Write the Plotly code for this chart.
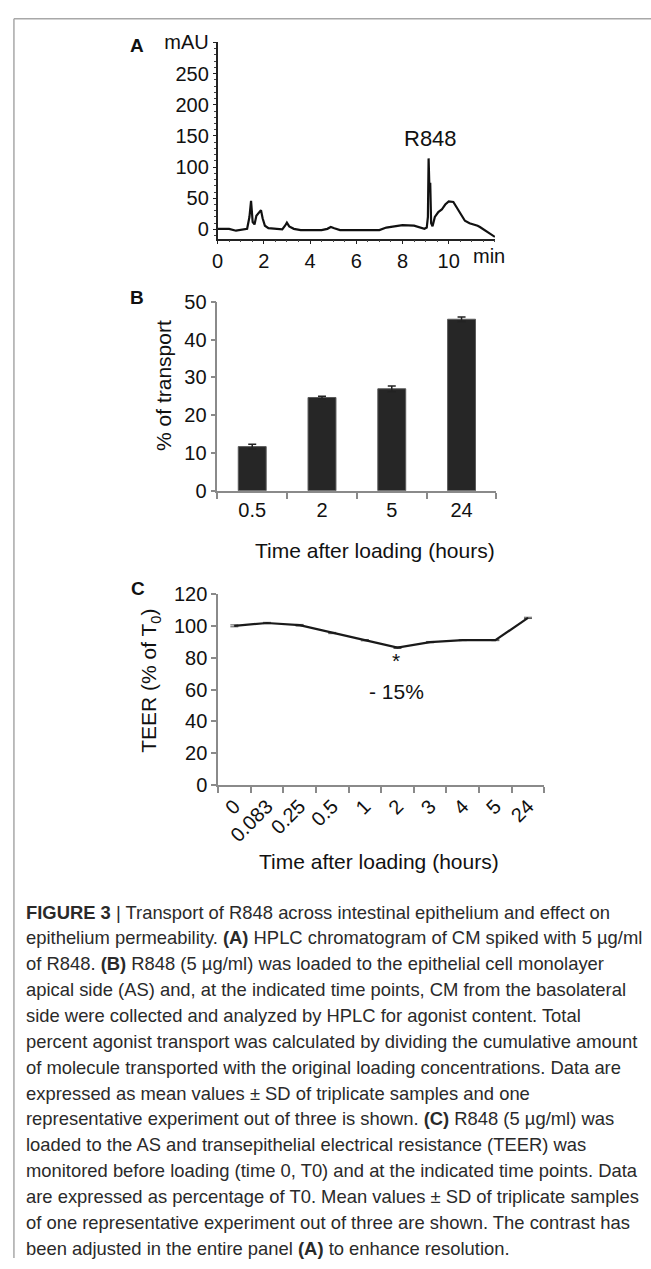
import plotly.graph_objects as go

W, H = 651, 1269

# ---------------- data ----------------
# Panel A: HPLC chromatogram (time in min, absorbance in mAU)
hplc_time = [0, 0.5, 0.8, 1.0, 1.28, 1.38, 1.45, 1.52, 1.6, 1.68, 1.75, 1.88, 1.95, 2.05,
             2.2, 2.5, 2.8, 2.92, 3.0, 3.1, 3.3, 3.6, 4.5, 4.75, 4.9, 5.05, 5.3, 6.0, 7.0,
             7.3, 7.6, 8.0, 8.5, 8.85, 8.95, 9.05, 9.1, 9.13, 9.17, 9.2, 9.24, 9.3, 9.4,
             9.55, 9.7, 9.85, 10.0, 10.2, 10.35, 10.5, 10.7, 10.9, 11.15, 11.25, 11.35,
             11.6, 11.8, 12.0]
hplc_mau = [1, 1, -2, -1, 1, 20, 46, 12, 8, 22, 25, 31, 18, 6,
            2, 1, 0, 6, 11, 5, 1, -1, -1, 1, 4, 2, -1, -1, -1,
            3, 5, 7, 6, 2, 1, 3, 20, 114, 60, 75, 10, 5, 20,
            28, 32, 40, 45, 44, 35, 25, 14, 10, 8, 6, 4,
            -2, -6, -12]
hplc_yticks = [0, 50, 100, 150, 200, 250, 300]
hplc_yticktext = ["0", "50", "100", "150", "200", "250", "mAU"]
hplc_xticks = [0, 2, 4, 6, 8, 10]

# Panel B: % of transport
transport_time = ["0.5", "2", "5", "24"]
transport_pct = [11.7, 24.7, 27.0, 45.4]
transport_sd = [0.6, 0.35, 0.75, 0.6]

# Panel C: TEER (% of T0)
teer_time = ["0", "0.083", "0.25", "0.5", "1", "2", "3", "4", "5", "24"]
teer_pct = [100, 101.8, 100.4, 95.5, 91, 86.3, 89.8, 91, 91, 105]
teer_sd = [0.6, 0.4, 0.5, 0.4, 0.4, 0.5, 0.4, 0.3, 0.3, 0.4]

caption_lines = [
    "<b>FIGURE 3</b> | Transport of R848 across intestinal epithelium and effect on",
    "epithelium permeability. <b>(A)</b> HPLC chromatogram of CM spiked with 5 µg/ml",
    "of R848. <b>(B)</b> R848 (5 µg/ml) was loaded to the epithelial cell monolayer",
    "apical side (AS) and, at the indicated time points, CM from the basolateral",
    "side were collected and analyzed by HPLC for agonist content. Total",
    "percent agonist transport was calculated by dividing the cumulative amount",
    "of molecule transported with the original loading concentrations. Data are",
    "expressed as mean values ± SD of triplicate samples and one",
    "representative experiment out of three is shown. <b>(C)</b> R848 (5 µg/ml) was",
    "loaded to the AS and transepithelial electrical resistance (TEER) was",
    "monitored before loading (time 0, T0) and at the indicated time points. Data",
    "are expressed as percentage of T0. Mean values ± SD of triplicate samples",
    "of one representative experiment out of three are shown. The contrast has",
    "been adjusted in the entire panel <b>(A)</b> to enhance resolution.",
]

# ---------------- helpers ----------------
def fx(px):
    return px / W

def fy(py):
    return 1 - py / H

FONT = "Liberation Sans, Arial, sans-serif"
TICKF = dict(family=FONT, size=20, color="#111111")
GRAY = "#8a8a8a"

fig = go.Figure()

# Panel A
fig.add_trace(go.Scatter(x=hplc_time, y=hplc_mau, mode="lines",
                         line=dict(color="#111111", width=2.2), xaxis="x", yaxis="y",
                         showlegend=False, hoverinfo="skip"))

# Panel B
fig.add_trace(go.Bar(x=transport_time, y=transport_pct, width=0.4,
                     marker=dict(color="#262626", line=dict(color="#5a5a5a", width=1)),
                     error_y=dict(type="data", array=transport_sd, visible=True,
                                  color="#222222", thickness=1.5, width=4),
                     xaxis="x2", yaxis="y2", showlegend=False, hoverinfo="skip"))

# Panel C
fig.add_trace(go.Scatter(x=teer_time, y=teer_pct, mode="lines",
                         line=dict(color="#1a1a1a", width=2.2),
                         error_y=dict(type="data", array=teer_sd, visible=True,
                                      color="#555555", thickness=1, width=4),
                         xaxis="x3", yaxis="y3", showlegend=False, hoverinfo="skip"))

axis_common = dict(showgrid=False, zeroline=False, fixedrange=True, tickfont=TICKF)

layout = dict(
    width=W, height=H,
    margin=dict(l=0, r=0, t=0, b=0),
    paper_bgcolor="white", plot_bgcolor="white",
    font=dict(family=FONT, color="#111111"),
    # Panel A axes
    xaxis=dict(domain=[fx(213.5), fx(493.5)], range=[0, 12], anchor="y",
               tickvals=hplc_xticks, ticks="outside", ticklen=4, tickwidth=1.2,
               tickcolor="#222222", showline=True, linecolor="#222222", linewidth=1.5,
               minor=dict(ticks="outside", dtick=0.5, ticklen=2, tickcolor="#444444"),
               **axis_common),
    yaxis=dict(domain=[fy(231.7), fy(32)], range=[-14.8, 300], anchor="x",
               tickvals=hplc_yticks, ticktext=hplc_yticktext, ticks="outside",
               ticklen=3, tickwidth=1.2, tickcolor="#222222", showline=True,
               linecolor="#222222", linewidth=1.5,
               minor=dict(ticks="outside", dtick=10, ticklen=2, tickcolor="#444444"),
               **axis_common),
    # Panel B axes
    xaxis2=dict(domain=[fx(213.3), fx(495)], anchor="y2", type="category",
                categoryorder="array", categoryarray=transport_time,
                tickson="boundaries", ticks="outside", ticklen=6, tickcolor=GRAY,
                tickwidth=1.5, showline=True, linecolor=GRAY, linewidth=1.5,
                **axis_common),
    yaxis2=dict(domain=[fy(488.3), fy(296)], range=[0, 50], anchor="x2",
                tickvals=[0, 10, 20, 30, 40, 50], ticks="outside", ticklen=5,
                tickcolor=GRAY, tickwidth=1.5, showline=True, linecolor=GRAY,
                linewidth=1.5, **axis_common),
    # Panel C axes
    xaxis3=dict(domain=[fx(214), fx(543.3)], anchor="y3", type="category",
                categoryorder="array", categoryarray=teer_time,
                tickson="boundaries", ticks="outside", ticklen=6, tickcolor=GRAY,
                tickwidth=1.5, showline=True, linecolor=GRAY, linewidth=1.5,
                tickangle=-45, **axis_common),
    yaxis3=dict(domain=[fy(787.7), fy(593.3)], range=[0, 120], anchor="x3",
                tickvals=[0, 20, 40, 60, 80, 100, 120], ticks="outside", ticklen=5,
                tickcolor=GRAY, tickwidth=1.5, showline=True, linecolor=GRAY,
                linewidth=1.5, **axis_common),
)
fig.update_layout(**layout)

ann = []
def text(px, py, s, size, bold=False, xanchor="center", yanchor="middle", angle=0, color="#111111"):
    ann.append(dict(xref="paper", yref="paper", x=fx(px), y=fy(py), text=(f"<b>{s}</b>" if bold else s),
                    showarrow=False, xanchor=xanchor, yanchor=yanchor, textangle=angle,
                    font=dict(family=FONT, size=size, color=color)))

# Panel letters
text(132, 35, "A", 19, bold=True)
text(132, 292, "B", 19, bold=True)
text(133, 588, "C", 19, bold=True)
# Panel A labels
text(487, 249, "min", 20)
text(428, 130, "R848", 22)
# Panel B titles
text(159, 381, "% of transport", 21, angle=-90)
text(372, 549, "Time after loading (hours)", 21)
# Panel C titles
text(146, 682, "TEER (% of T<sub>0</sub>)", 21, angle=-90)
text(376, 866, "Time after loading (hours)", 21)
text(394, 661, "*", 21)
text(394, 692, "- 15%", 21)

# Caption
cap_y0, cap_dy = 917, 26.3
for i, line in enumerate(caption_lines):
    ann.append(dict(xref="paper", yref="paper", x=fx(18), y=fy(cap_y0 + i * cap_dy),
                    text=line, showarrow=False, xanchor="left", yanchor="middle",
                    font=dict(family=FONT, size=18.4, color="#2a2a2a")))

fig.update_layout(annotations=ann)

# Frame lines (top and left)
fig.add_shape(type="line", xref="paper", yref="paper", x0=fx(8), x1=1, y0=fy(8), y1=fy(8),
              line=dict(color="#a8a8a8", width=1.5))
fig.add_shape(type="line", xref="paper", yref="paper", x0=fx(8), x1=fx(8), y0=fy(8), y1=0,
              line=dict(color="#a8a8a8", width=1.5))

fig.write_html("out.html", config={"displayModeBar": False, "responsive": False},
               post_script="document.body.style.margin='0';")
